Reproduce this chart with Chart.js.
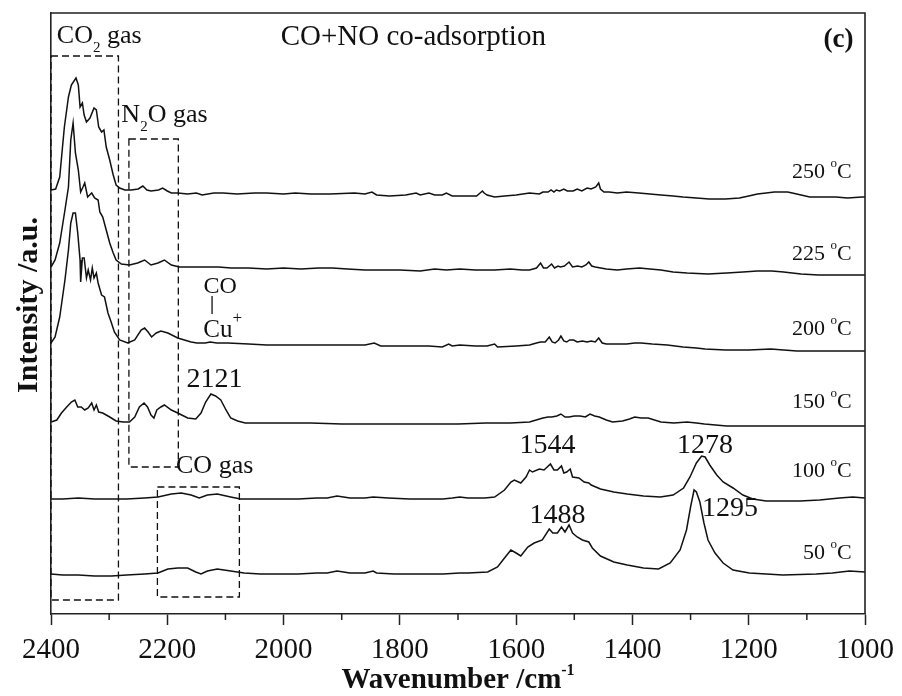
<!DOCTYPE html>
<html><head><meta charset="utf-8">
<script src="https://cdn.jsdelivr.net/npm/chart.js@4/dist/chart.umd.min.js"></script>
<style>html,body{margin:0;padding:0;background:#fff}canvas{display:block}</style>
</head><body>
<canvas id="c" width="902" height="696"></canvas>
<script>
// ---- data (wavenumber cm-1, stacked intensity a.u.) ----
const xTickValues = [2400, 2200, 2000, 1800, 1600, 1400, 1200, 1000];
const tempLabels = ['250', '225', '200', '150', '100', '50'];

const s250 = [[2400,424],[2392,425],[2385,437],[2377,487],[2370,517],[2365,529],[2357,536],[2353,529],[2350,507],[2346,511],[2343,499],[2339,492],[2333,496],[2326,506],[2322,504],[2318,487],[2313,482],[2309,484],[2305,467],[2299,454],[2293,439],[2288,429],[2282,426],[2273,424],[2262,424],[2250,425],[2242,428],[2235,424],[2228,423],[2215,424],[2208,426],[2200,423],[2193,421],[2182,421],[2165,420],[2150,421],[2140,419],[2120,421],[2104,421],[2080,420],[2050,421],[2029,421],[2000,420],[1980,421],[1953,420],[1920,420],[1878,421],[1860,420],[1848,422],[1840,419],[1818,418],[1790,419],[1772,421],[1765,419],[1750,421],[1740,419],[1727,419],[1720,421],[1710,418],[1690,418],[1668,418],[1658,423],[1655,421],[1650,419],[1637,417],[1620,418],[1600,419],[1577,421],[1560,420],[1554,422],[1545,422],[1540,424],[1535,422],[1531,424],[1525,423],[1518,425],[1512,423],[1502,423],[1495,425],[1487,423],[1478,426],[1471,425],[1463,427],[1458,431],[1455,425],[1449,422],[1440,422],[1426,421],[1410,422],[1389,421],[1370,420],[1351,419],[1330,418],[1313,417],[1290,416],[1268,415],[1240,415],[1216,416],[1200,418],[1185,420],[1170,421],[1156,422],[1145,422],[1133,422],[1125,421],[1110,419],[1095,417],[1070,417],[1050,417],[1030,416],[1005,417],[1000,417]];

const s225 = [[2400,347],[2393,354],[2385,371],[2376,404],[2370,427],[2366,474],[2362,491],[2358,461],[2353,444],[2349,422],[2345,427],[2342,431],[2337,417],[2330,421],[2325,416],[2319,414],[2316,402],[2311,397],[2305,384],[2299,371],[2293,361],[2288,354],[2279,350],[2265,349],[2251,351],[2239,354],[2228,349],[2216,351],[2205,354],[2193,349],[2179,347],[2150,347],[2130,347],[2112,347],[2090,346],[2060,346],[2029,345],[2000,346],[1970,345],[1940,346],[1916,346],[1890,345],[1860,344],[1840,344],[1800,344],[1765,343],[1740,345],[1720,344],[1697,345],[1670,344],[1637,344],[1610,345],[1590,344],[1577,344],[1565,346],[1558,351],[1553,346],[1547,346],[1539,350],[1534,346],[1528,348],[1524,347],[1517,348],[1509,352],[1503,347],[1494,348],[1487,347],[1480,349],[1475,352],[1470,348],[1464,347],[1445,345],[1426,344],[1410,345],[1388,346],[1370,345],[1351,344],[1330,342],[1306,341],[1270,340],[1238,341],[1210,342],[1185,343],[1160,343],[1140,342],[1110,340],[1080,339],[1040,339],[1000,339]];

const s200 = [[2400,271],[2393,277],[2385,297],[2376,334],[2370,364],[2366,391],[2362,401],[2358,401],[2354,381],[2350,354],[2349,332],[2346,356],[2343,356],[2339,336],[2336,344],[2332,334],[2329,346],[2326,336],[2322,341],[2319,331],[2313,319],[2308,317],[2302,301],[2296,291],[2291,282],[2282,274],[2268,271],[2256,274],[2245,284],[2239,286],[2233,282],[2227,277],[2219,281],[2211,283],[2199,281],[2182,276],[2159,272],[2149,271],[2135,271],[2126,272],[2115,271],[2096,271],[2060,270],[2029,269],[2000,269],[1953,269],[1900,269],[1860,269],[1844,271],[1833,268],[1790,268],[1750,268],[1727,267],[1716,270],[1710,268],[1697,269],[1670,268],[1650,268],[1637,270],[1632,267],[1600,268],[1577,269],[1565,271],[1558,272],[1550,272],[1543,277],[1538,272],[1533,271],[1527,274],[1523,278],[1518,273],[1513,272],[1508,274],[1501,274],[1495,272],[1486,273],[1478,272],[1471,273],[1464,272],[1458,276],[1452,271],[1445,270],[1426,270],[1410,270],[1396,271],[1385,271],[1366,270],[1340,269],[1313,267],[1290,266],[1275,265],[1240,264],[1200,264],[1162,265],[1140,264],[1117,263],[1060,263],[1000,263]];

const s150 = [[2400,192],[2390,194],[2382,201],[2373,207],[2365,212],[2359,214],[2354,207],[2348,207],[2342,204],[2336,206],[2330,211],[2326,204],[2322,209],[2318,202],[2311,201],[2299,197],[2288,193],[2276,192],[2265,192],[2256,197],[2248,207],[2240,211],[2234,207],[2228,199],[2223,196],[2218,204],[2211,207],[2205,209],[2193,204],[2182,201],[2165,196],[2151,195],[2142,201],[2134,212],[2125,220],[2117,218],[2108,214],[2099,204],[2091,196],[2079,193],[2066,191],[2040,191],[2011,191],[1953,191],[1900,190],[1850,190],[1803,190],[1750,190],[1700,190],[1652,191],[1610,191],[1577,192],[1554,196],[1545,197],[1539,197],[1530,198],[1523,200],[1516,197],[1509,197],[1500,198],[1490,198],[1481,197],[1473,200],[1465,198],[1457,197],[1445,194],[1434,192],[1417,193],[1405,195],[1396,197],[1385,196],[1373,196],[1351,192],[1329,191],[1306,192],[1290,191],[1276,190],[1238,188],[1200,188],[1125,188],[1060,188],[1000,188]];

const s100 = [[2400,115],[2380,115],[2353,116],[2325,115],[2296,115],[2270,115],[2239,116],[2216,117],[2193,120],[2176,121],[2159,119],[2145,116],[2131,119],[2114,120],[2091,117],[2074,115],[2040,115],[2011,115],[1975,115],[1943,116],[1925,116],[1908,118],[1886,116],[1860,116],[1846,117],[1820,116],[1783,115],[1750,115],[1726,115],[1710,116],[1697,117],[1683,116],[1654,116],[1637,117],[1620,124],[1609,132],[1603,134],[1592,131],[1583,137],[1577,144],[1572,142],[1560,145],[1552,144],[1541,150],[1535,144],[1529,144],[1522,148],[1518,141],[1513,142],[1507,145],[1503,137],[1492,136],[1483,132],[1475,131],[1471,129],[1455,125],[1432,122],[1409,120],[1381,118],[1352,117],[1330,119],[1312,126],[1301,137],[1290,151],[1281,158],[1275,157],[1267,149],[1255,139],[1244,132],[1227,126],[1210,119],[1193,115],[1170,113],[1112,113],[1078,114],[1044,116],[1021,117],[1000,116]];

const s50 = [[2400,40],[2380,39],[2353,39],[2325,38],[2296,38],[2270,39],[2239,40],[2216,41],[2199,45],[2182,46],[2165,46],[2151,42],[2142,40],[2131,43],[2114,45],[2091,43],[2068,41],[2040,40],[2011,40],[1975,40],[1943,41],[1925,41],[1908,43],[1886,41],[1860,41],[1846,43],[1840,41],[1810,40],[1783,40],[1750,40],[1726,40],[1697,41],[1683,41],[1649,42],[1632,47],[1620,56],[1609,64],[1600,61],[1592,58],[1580,67],[1569,71],[1555,74],[1543,85],[1537,81],[1529,81],[1522,87],[1516,82],[1509,89],[1503,81],[1495,77],[1486,74],[1475,72],[1469,66],[1455,58],[1432,52],[1409,49],[1381,46],[1355,45],[1335,51],[1318,64],[1307,84],[1300,107],[1294,124],[1290,122],[1284,112],[1277,91],[1270,74],[1258,61],[1244,51],[1227,44],[1199,41],[1141,39],[1084,40],[1056,41],[1027,43],[1000,42]];

const allSeries = [s250, s225, s200, s150, s100, s50];

// ---- annotation layout (data coordinates) ----
const FONT = "'Liberation Serif','Times New Roman',serif";
const tempLabelPos = { wn: 1023, vals: [436, 354, 279, 206, 137, 55] };
const textNotes = [
  { wn: 2390, v: 571, align: 'left', segs: [{t:'CO',s:26},{t:'2',s:15,dy:9},{t:' gas',s:26}] },
  { wn: 2005, v: 569, align: 'left', segs: [{t:'CO+NO co-adsorption',s:29}] },
  { wn: 1020, v: 567, align: 'right', segs: [{t:'(c)',s:27,b:true}] },
  { wn: 2279, v: 492, align: 'left', segs: [{t:'N',s:26},{t:'2',s:15,dy:9},{t:'O gas',s:26}] },
  { wn: 2185, v: 141, align: 'left', segs: [{t:'CO gas',s:26}] },
  { wn: 2119, v: 227, align: 'center', segs: [{t:'2121',s:28}] },
  { wn: 1546, v: 161, align: 'center', segs: [{t:'1544',s:28}] },
  { wn: 1275, v: 161, align: 'center', segs: [{t:'1278',s:28}] },
  { wn: 1529, v: 91, align: 'center', segs: [{t:'1488',s:28}] },
  { wn: 1232, v: 98, align: 'center', segs: [{t:'1295',s:28}] },
  { wn: 2109, v: 321, align: 'center', segs: [{t:'CO',s:24}] },
  { wn: 2138, v: 277, align: 'left', segs: [{t:'Cu',s:25},{t:'+',s:17,dy:-14}] }
];
const linkLine = { wn: 2123, v1: 318, v2: 300 };
const dashedBoxes = [
  { x1: 2400, x2: 2284, y1: 14, y2: 558 },
  { x1: 2266, x2: 2181, y1: 147, y2: 475 },
  { x1: 2217, x2: 2076, y1: 17, y2: 127 }
];
const minorTicks = [2300, 2100, 1900, 1700, 1500, 1300, 1100];

function drawRich(ctx, segs, x, y, align) {
  let w = 0;
  segs.forEach(s => { ctx.font = (s.b ? 'bold ' : '') + s.s + 'px ' + FONT; s.w = ctx.measureText(s.t).width; w += s.w; });
  let cx = align === 'right' ? x - w : (align === 'center' ? x - w / 2 : x);
  ctx.textAlign = 'left'; ctx.textBaseline = 'alphabetic';
  segs.forEach(s => { ctx.font = (s.b ? 'bold ' : '') + s.s + 'px ' + FONT; ctx.fillText(s.t, cx, y + (s.dy || 0)); cx += s.w; });
}

const decor = {
  id: 'decor',
  afterDatasetsDraw(chart) {
    const ctx = chart.ctx, xs = chart.scales.x, ys = chart.scales.y, ca = chart.chartArea;
    ctx.save();
    ctx.strokeStyle = '#111'; ctx.lineWidth = 1.3; ctx.setLineDash([7, 4]);
    dashedBoxes.forEach(b => {
      const l = xs.getPixelForValue(b.x1), r = xs.getPixelForValue(b.x2);
      const t = ys.getPixelForValue(b.y2), bt = ys.getPixelForValue(b.y1);
      ctx.strokeRect(l, t, r - l, bt - t);
    });
    ctx.setLineDash([]);
    ctx.strokeStyle = '#222'; ctx.lineWidth = 1.6;
    ctx.beginPath();
    ctx.moveTo(ca.left, ca.top); ctx.lineTo(ca.right, ca.top); ctx.lineTo(ca.right, ca.bottom);
    ctx.stroke();
    ctx.lineWidth = 1.5;
    minorTicks.forEach(v => {
      const px = xs.getPixelForValue(v);
      ctx.beginPath(); ctx.moveTo(px, ca.bottom); ctx.lineTo(px, ca.bottom + 6); ctx.stroke();
    });
    ctx.lineWidth = 1.3; ctx.strokeStyle = '#111';
    const lx = xs.getPixelForValue(linkLine.wn);
    ctx.beginPath(); ctx.moveTo(lx, ys.getPixelForValue(linkLine.v1)); ctx.lineTo(lx, ys.getPixelForValue(linkLine.v2)); ctx.stroke();
    ctx.fillStyle = '#111';
    textNotes.forEach(n => drawRich(ctx, n.segs.map(s => Object.assign({}, s)), xs.getPixelForValue(n.wn), ys.getPixelForValue(n.v), n.align));
    tempLabels.forEach((t, i) => {
      drawRich(ctx, [{t: t + ' ', s: 22}, {t: 'o', s: 13, dy: -11}, {t: 'C', s: 22}],
        xs.getPixelForValue(tempLabelPos.wn), ys.getPixelForValue(tempLabelPos.vals[i]), 'right');
    });
    drawRich(ctx, [{t: 'Wavenumber /cm', s: 29, b: true}, {t: '-1', s: 16, b: true, dy: -13}], (ca.left + ca.right) / 2, ca.bottom + 74, 'center');
    ctx.save();
    ctx.translate(27, ca.top + 292);
    ctx.rotate(-Math.PI / 2);
    drawRich(ctx, [{t: 'Intensity /a.u.', s: 30, b: true}], 0, 10, 'center');
    ctx.restore();
    ctx.restore();
  }
};

new Chart(document.getElementById('c'), {
  type: 'line',
  data: {
    datasets: allSeries.map((s, i) => ({
      label: tempLabels[i] + ' °C',
      data: s.map(p => ({ x: p[0], y: p[1] })),
      borderColor: '#111', borderWidth: 1.5, pointRadius: 0, tension: 0, fill: false
    }))
  },
  options: {
    responsive: false, animation: false, devicePixelRatio: 1,
    layout: { padding: { left: 0, top: 13, right: 33, bottom: 0 } },
    plugins: { legend: { display: false }, tooltip: { enabled: false } },
    scales: {
      x: {
        type: 'linear', reverse: true, min: 1000, max: 2400,
        afterFit: s => { s.height = 82; },
        afterBuildTicks: s => { s.ticks = xTickValues.map(v => ({ value: v })); },
        ticks: { autoSkip: false, maxRotation: 0, padding: 8, color: '#111', font: { family: FONT, size: 29 }, callback: v => String(v) },
        grid: { drawOnChartArea: false, drawTicks: true, tickLength: 11, tickWidth: 1.5, tickColor: '#222' },
        border: { display: true, color: '#222', width: 1.6 }
      },
      y: {
        min: 0, max: 601,
        afterFit: s => { s.width = 51; },
        ticks: { display: false },
        grid: { display: false, drawTicks: false },
        border: { display: true, color: '#222', width: 1.6 }
      }
    }
  },
  plugins: [decor]
});
</script>
</body></html>
